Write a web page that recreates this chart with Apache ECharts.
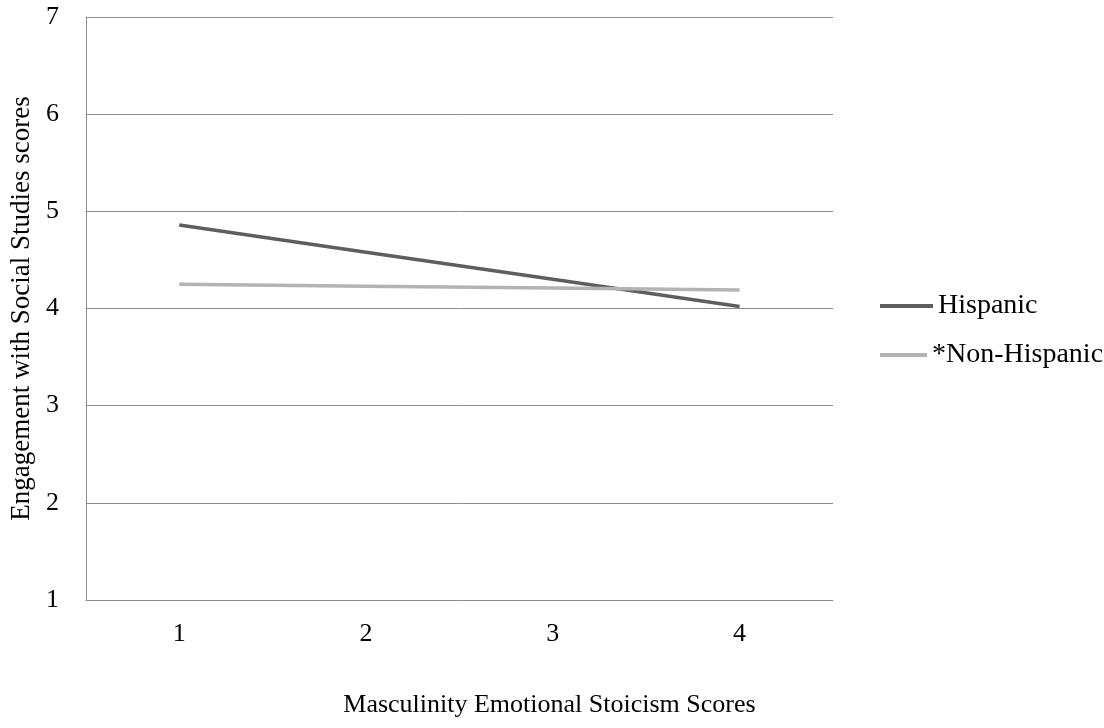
<!DOCTYPE html>
<html>
<head>
<meta charset="utf-8">
<script src="https://cdn.jsdelivr.net/npm/echarts@6/dist/echarts.min.js"></script>
<style>
html,body{margin:0;padding:0;background:#fff;}
#chart{width:1104px;height:728px;}
</style>
</head>
<body>
<div id="chart"></div>
<script>
const categories = ['1', '2', '3', '4'];
const hispanic = [4.86, 4.58, 4.30, 4.02];
const nonHispanic = [4.25, 4.23, 4.21, 4.19];
const seriesNames = ['Hispanic', 'Non-Hispanic'];
const xTitle = 'Masculinity Emotional Stoicism Scores';
const yTitle = 'Engagement with Social Studies scores';

const FONT = '"Liberation Serif", "Times New Roman", serif';
const legendText = {fontFamily: FONT, fontSize: 28, color: '#000'};
const chart = echarts.init(document.getElementById('chart'), null, {renderer: 'canvas'});
chart.setOption({
  animation: false,
  backgroundColor: '#ffffff',
  grid: {left: 80, right: 271, top: 17, bottom: 128, containLabel: false},
  legend: [
    {
      orient: 'vertical', left: 875, top: 287,
      itemWidth: 53, itemHeight: 4, icon: 'rect',
      data: [seriesNames[0]],
      textStyle: legendText
    },
    {
      orient: 'vertical', left: 875, top: 336,
      itemWidth: 47, itemHeight: 4, icon: 'rect',
      data: [seriesNames[1]],
      formatter: function (n) { return '*' + n; },
      textStyle: legendText
    }
  ],
  xAxis: {
    type: 'category',
    data: categories,
    boundaryGap: true,
    axisLine: {show: true, lineStyle: {color: '#8c8c8c', width: 1}},
    axisTick: {show: false},
    axisLabel: {fontFamily: FONT, fontSize: 26, color: '#000', margin: 21},
    name: xTitle,
    nameLocation: 'middle',
    nameGap: 92,
    nameTextStyle: {fontFamily: FONT, fontSize: 26, color: '#000', padding: [0, 0, 0, 180]}
  },
  yAxis: {
    type: 'value',
    min: 1,
    max: 7,
    interval: 1,
    axisLine: {show: true, lineStyle: {color: '#8c8c8c', width: 1}},
    axisTick: {show: false},
    splitLine: {show: true, lineStyle: {color: '#8c8c8c', width: 1}},
    axisLabel: {fontFamily: FONT, fontSize: 26, color: '#000', margin: 27},
    name: yTitle,
    nameLocation: 'middle',
    nameGap: 40,
    nameTextStyle: {fontFamily: FONT, fontSize: 27, color: '#000'}
  },
  series: [
    {
      name: seriesNames[0], type: 'line', data: hispanic,
      symbol: 'none', color: '#5e5e5e',
      lineStyle: {width: 3.5, color: '#5e5e5e'}
    },
    {
      name: seriesNames[1], type: 'line', data: nonHispanic,
      symbol: 'none', color: '#b3b3b3',
      lineStyle: {width: 3.5, color: '#b3b3b3'}
    }
  ]
});
</script>
</body>
</html>
